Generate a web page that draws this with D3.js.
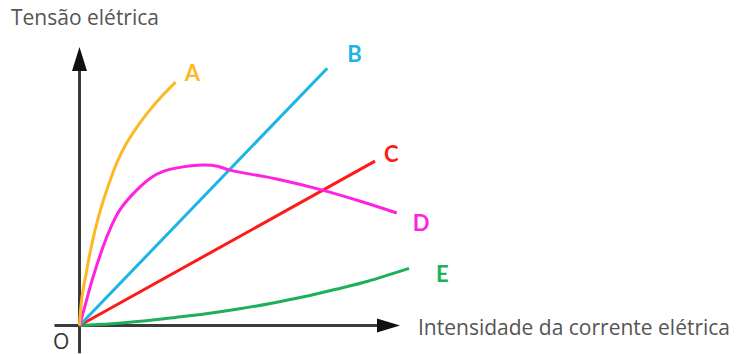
<!DOCTYPE html>
<html><head><meta charset="utf-8">
<script src="https://cdn.jsdelivr.net/npm/d3@7/dist/d3.min.js"></script>
<style>body{margin:0;background:#fff}svg{display:block}</style>
</head><body>
<svg id="c" width="737" height="354"></svg>
<script>
// Data (arbitrary units: x = current, y = voltage)
const seriesNames = ["A","B","C","D","E"];
const seriesColors = ["#FDB825","#1DB4E6","#FF1A1A","#FF22E0","#1DB05A"];
const curveA = [[0,0],[0.31,5.1],[0.87,11.0],[1.81,17.1],[3.81,29.0],[6.4,41.0],[9.83,53.0],[11.9,59.1],[14.4,64.9],[17.7,70.9],[21.6,76.9],[25.6,82.2],[30.0,87.4]];
const curveB = [[0,0],[77.3,92.4]];
const curveC = [[0,0],[92.2,59.0]];
const curveD = [[0,0],[1.25,5.1],[4.15,17.1],[7.58,29.0],[9.67,35.0],[12.3,41.0],[16.4,46.9],[22.2,53.0],[26.3,55.4],[30.5,56.6],[38.7,57.6],[43.1,57.2],[46.8,55.8],[61.5,52.6],[75.5,48.7],[87.4,44.7],[99.0,40.4]];
const curveE = [[0,0],[10,0.6],[20,1.6],[30,2.9],[40,4.3],[50,6],[60,8],[70,10.3],[80,13],[90,15.9],[102.8,20.5]];
const yAxisLabel = "Tensão elétrica";
const xAxisLabel = "Intensidade da corrente elétrica";
const originLabel = "O";

const allCurves = [curveA, curveB, curveC, curveD, curveE];
const labelOffsets = [[9,-1],[20,-6],[9,1],[16,18],[27,14]];

const svg = d3.select("#c");
const x = d3.scaleLinear().domain([0,100]).range([79.5,400]);
const y = d3.scaleLinear().domain([0,100]).range([325.5,47]);

const axisColor = "#3a3a3a";
// axes
svg.append("line").attr("x1",x(-7.8)).attr("x2",x(93)).attr("y1",y(0)).attr("y2",y(0))
  .attr("stroke",axisColor).attr("stroke-width",3);
svg.append("line").attr("x1",x(0)).attr("x2",x(0)).attr("y1",y(-10)).attr("y2",y(92))
  .attr("stroke",axisColor).attr("stroke-width",3);
// arrowheads
svg.append("path").attr("fill","#111")
  .attr("d",`M${x(100)},${y(0)} L${x(100)-23},${y(0)-7} L${x(100)-23},${y(0)+7} Z`);
svg.append("path").attr("fill","#111")
  .attr("d",`M${x(0)},${y(100)} L${x(0)-7.5},${y(100)+24} L${x(0)+7.5},${y(100)+24} Z`);

const line = d3.line().x(d=>x(d[0])).y(d=>y(d[1])).curve(d3.curveCatmullRom.alpha(0.5));
// draw order: E, C, B, D, A
[4,2,1,3,0].forEach(i=>{
  svg.append("path").datum(allCurves[i]).attr("d",line)
    .attr("fill","none").attr("stroke",seriesColors[i]).attr("stroke-width",3)
    .attr("stroke-linecap","butt");
});
// series labels
seriesNames.forEach((n,i)=>{
  const last = allCurves[i][allCurves[i].length-1];
  svg.append("text").attr("x",x(last[0])+labelOffsets[i][0]).attr("y",y(last[1])+labelOffsets[i][1])
    .attr("font-family","Lato, sans-serif").attr("font-weight","bold").attr("font-size",22)
    .attr("fill",seriesColors[i]).text(n);
});
// axis labels
svg.append("text").attr("x",11).attr("y",25).attr("font-family","'Open Sans', sans-serif")
  .attr("font-size",21).attr("fill","#555").text(yAxisLabel);
svg.append("text").attr("x",418).attr("y",335).attr("font-family","'Open Sans', sans-serif")
  .attr("font-size",21).attr("fill","#555").text(xAxisLabel);
svg.append("text").attr("x",53).attr("y",349).attr("font-family","'Open Sans', sans-serif")
  .attr("font-size",21).attr("fill","#333").text(originLabel);
</script>
</body></html>
